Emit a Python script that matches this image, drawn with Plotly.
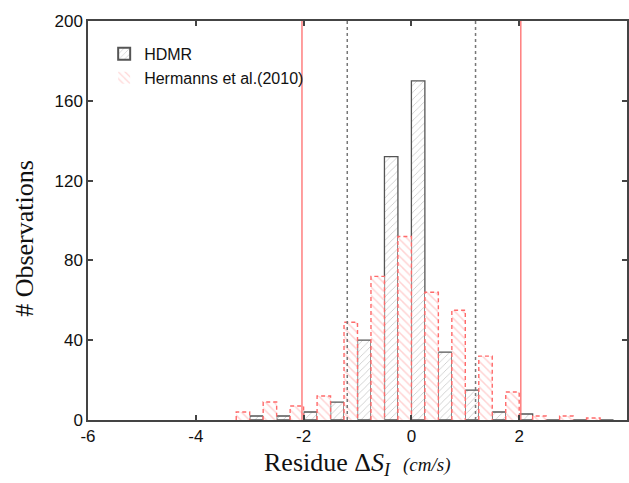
import plotly.graph_objects as go

# ---- data ----
bin_centers = [-3.0, -2.5, -2.0, -1.5, -1.0, -0.5, 0.0, 0.5, 1.0, 1.5, 2.0, 2.5, 3.0, 3.5]
hdmr_counts = [2, 2, 4, 9, 40, 132, 170, 34, 15, 4, 3, 0, 0, 0]
hermanns_counts = [4, 9, 7, 12, 49, 72, 92, 64, 55, 32, 14, 2, 2, 1]
bar_width = 0.25
solid_limits = [-2.03, 2.03]
dotted_limits = [-1.19, 1.19]
x_ticks = [-6, -4, -2, 0, 2, 4]
x_tick_labels = ["-6", "-4", "-2", "0", "2", "4"]
y_ticks = [0, 40, 80, 120, 160, 200]
y_tick_labels = ["0", "40", "80", "120", "160", "200"]

RED = "#ff6b6b"

fig = go.Figure()

# HDMR bars (right half of each bin)
fig.add_trace(go.Bar(
    x=bin_centers, y=hdmr_counts, width=bar_width, offset=0,
    name="HDMR",
    marker=dict(color="white",
                line=dict(color="#555555", width=1.3),
                pattern=dict(shape="/", fgcolor="#8a8a8a", bgcolor="white", size=5, solidity=0.15)),
))

# Hermanns bars (left half of each bin)
fig.add_trace(go.Bar(
    x=bin_centers, y=hermanns_counts, width=bar_width, offset=-bar_width,
    name="Hermanns et al.(2010)",
    marker=dict(color="white",
                line=dict(color="rgba(255,107,107,0.0)", width=0),
                pattern=dict(shape="\\", fgcolor="#ffa8a8", bgcolor="white", size=6, solidity=0.25)),
))

# dashed outlines for Hermanns bars, derived from the data
ox, oy = [], []
for c, h in zip(bin_centers, hermanns_counts):
    x0, x1 = c - bar_width, c
    ox += [x0, x0, x1, x1, None]
    oy += [0, h, h, 0, None]
fig.add_trace(go.Scatter(x=ox, y=oy, mode="lines", showlegend=False, hoverinfo="skip",
                         line=dict(color=RED, width=1.4, dash="4px,3px")))

shapes = []
for v in solid_limits:
    shapes.append(dict(type="line", xref="x", yref="paper", x0=v, x1=v, y0=0, y1=1,
                       line=dict(color=RED, width=1.3), layer="above"))
for v in dotted_limits:
    shapes.append(dict(type="line", xref="x", yref="paper", x0=v, x1=v, y0=0, y1=1,
                       line=dict(color="#777777", width=1.5, dash="dot"), layer="above"))

axis_common = dict(showline=True, linecolor="#444444", linewidth=1.5, mirror="allticks",
                   ticks="inside", ticklen=5, tickwidth=1.5, tickcolor="#444444",
                   showgrid=False, zeroline=False, automargin=False,
                   tickfont=dict(family="Liberation Sans, Arial", size=17, color="#111111"))

title_font = dict(family="Liberation Serif, Times New Roman", size=26, color="#111111")

fig.update_layout(
    width=629, height=483,
    margin=dict(l=88, r=2, t=21, b=63),
    paper_bgcolor="white", plot_bgcolor="white",
    barmode="overlay",
    showlegend=True,
    legend=dict(x=0.03, y=0.96, xanchor="left", yanchor="top",
                bgcolor="rgba(0,0,0,0)", borderwidth=0,
                font=dict(family="Liberation Sans, Arial", size=16, color="#111111"),
                tracegroupgap=0, itemsizing="constant"),
    xaxis=dict(range=[-6, 4], tickvals=x_ticks, ticktext=x_tick_labels, **axis_common),
    yaxis=dict(range=[0, 200], tickvals=y_ticks, ticktext=y_tick_labels, **axis_common),
    shapes=shapes,
    annotations=[
        dict(text="Residue Δ<i>S<sub>I</sub></i>  <span style='font-size:19px'><i>(cm/s)</i></span>",
             xref="paper", yref="paper", x=0.5, y=-0.066, xanchor="center", yanchor="top",
             showarrow=False, font=title_font),
        dict(text="# Observations", textangle=-90,
             xref="paper", yref="paper", x=-0.118, y=0.455, xanchor="center", yanchor="middle",
             showarrow=False, font=dict(family="Liberation Serif, Times New Roman", size=26, color="#111111")),
    ],
)

fig.write_html("out.html", config={"displayModeBar": False},
               post_script="document.body.style.margin='0';document.body.style.overflow='hidden';")
